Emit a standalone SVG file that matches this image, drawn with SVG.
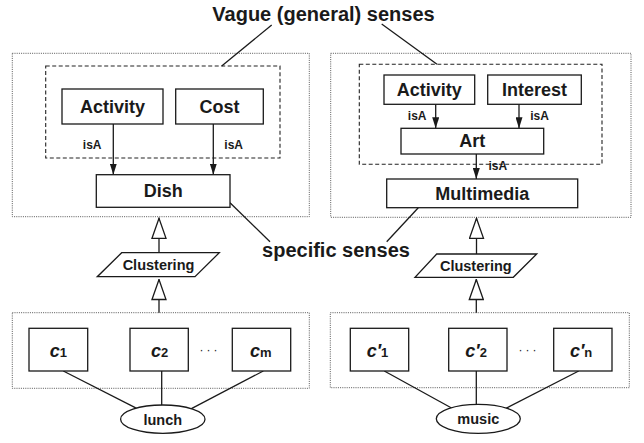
<svg xmlns="http://www.w3.org/2000/svg" width="644" height="443" viewBox="0 0 644 443">
<style>
text{font-family:"Liberation Sans",Arial,sans-serif;font-weight:bold;fill:#1a1a1a}
.box{fill:#fff;stroke:#1a1a1a;stroke-width:1.3}
.dot{fill:none;stroke:#444;stroke-width:0.9;stroke-dasharray:1 1.2}
.dash{fill:none;stroke:#222;stroke-width:1.1;stroke-dasharray:4 2.5}
.ln{fill:none;stroke:#1a1a1a;stroke-width:1.3}
.lbl{font-size:18px;text-anchor:middle}
.isa{font-size:12px;text-anchor:middle}
.big{font-size:20px;text-anchor:middle}
.cl{font-size:14.5px;text-anchor:middle}
.c{font-size:18px;font-style:italic}
.sub{font-size:13px;font-style:normal}
</style>
<defs>
<marker id="fa" viewBox="0 0 11 7" refX="11" refY="3.5" markerWidth="11" markerHeight="7" markerUnits="userSpaceOnUse" orient="auto"><path d="M0,0 L11,3.5 L0,7 z" fill="#1a1a1a"/></marker>
<marker id="ha" viewBox="-1 -1 22 16" refX="20" refY="7" markerWidth="22" markerHeight="16" markerUnits="userSpaceOnUse" orient="auto"><path d="M0,0 L20,7 L0,14 z" fill="#fff" stroke="#1a1a1a" stroke-width="1.3"/></marker>
</defs>

<!-- containers -->
<g id="containers">
<rect class="dot" x="12.3" y="53.3" width="297" height="163.4"/>
<rect class="dash" x="45.7" y="66" width="234.3" height="92"/>
<rect class="dot" x="330.7" y="53.3" width="300.3" height="164"/>
<rect class="dash" x="359.3" y="64.3" width="242.7" height="100"/>
<rect class="dot" x="12.3" y="312.7" width="297" height="75.6"/>
<rect class="dot" x="330.3" y="312.7" width="299" height="75"/>
</g>

<g id="connectors">
<line class="ln" x1="113.3" y1="124" x2="113.3" y2="174.7" marker-end="url(#fa)"/>
<line class="ln" x1="213.3" y1="124" x2="213.3" y2="174.7" marker-end="url(#fa)"/>
<line class="ln" x1="435.7" y1="104.3" x2="435.7" y2="128.3" marker-end="url(#fa)"/>
<line class="ln" x1="519" y1="104.3" x2="519" y2="128.3" marker-end="url(#fa)"/>
<line class="ln" x1="476.3" y1="154" x2="476.3" y2="179" marker-end="url(#fa)"/>
<line class="ln" x1="159" y1="252.7" x2="159" y2="218.3" marker-end="url(#ha)"/>
<line class="ln" x1="159" y1="312.7" x2="159" y2="279.5" marker-end="url(#ha)"/>
<line class="ln" x1="476.5" y1="254" x2="476.5" y2="218.3" marker-end="url(#ha)"/>
<line class="ln" x1="476.3" y1="312.7" x2="476.3" y2="279.5" marker-end="url(#ha)"/>
<line class="ln" x1="63.3" y1="371" x2="136.7" y2="408.3"/>
<line class="ln" x1="161.7" y1="371" x2="161.7" y2="405.5"/>
<line class="ln" x1="263.3" y1="371" x2="190" y2="409.3"/>
<line class="ln" x1="384.3" y1="371" x2="452" y2="408.3"/>
<line class="ln" x1="476.3" y1="371" x2="476.3" y2="404.8"/>
<line class="ln" x1="578.7" y1="371" x2="504.7" y2="409"/>
<line class="ln" x1="271.7" y1="25" x2="221.7" y2="66"/>
<line class="ln" x1="381.7" y1="24" x2="437" y2="64.3"/>
<line class="ln" x1="230" y1="202.7" x2="270" y2="241.7"/>
<line class="ln" x1="418.3" y1="207.7" x2="386.7" y2="241.7"/>
<text class="isa" x="92.2" y="149.3">isA</text>
<text class="isa" x="233.7" y="149.3">isA</text>
<text class="isa" x="417.2" y="120.3">isA</text>
<text class="isa" x="539.5" y="120.3">isA</text>
<text class="isa" x="497.8" y="170">isA</text>
</g>

<text id="vague" class="big" x="323.5" y="20.5">Vague (general) senses</text>
<text id="specific" class="big" x="336" y="256.5">specific senses</text>

<g id="activity1"><rect class="box" x="62" y="89" width="101" height="35"/><text class="lbl" x="112.5" y="113.3">Activity</text></g>
<g id="cost"><rect class="box" x="175.7" y="89" width="87.6" height="35"/><text class="lbl" x="219.5" y="113.3">Cost</text></g>
<g id="dish"><rect class="box" x="96.3" y="174.7" width="133.7" height="32.6"/><text class="lbl" x="163.2" y="197">Dish</text></g>

<g id="activity2"><rect class="box" x="384" y="75" width="90.7" height="29.3"/><text class="lbl" x="429.3" y="95.7">Activity</text></g>
<g id="interest"><rect class="box" x="487.7" y="75" width="93.6" height="29.3"/><text class="lbl" x="534.5" y="95.7">Interest</text></g>
<g id="art"><rect class="box" x="401" y="128.3" width="142.7" height="25.7"/><text class="lbl" x="472.3" y="147">Art</text></g>
<g id="multimedia"><rect class="box" x="386.7" y="179" width="191" height="28.7"/><text class="lbl" x="482.2" y="199.5">Multimedia</text></g>

<g id="clustering1"><path class="box" d="M121.7,252.7 L219.3,252.7 L195,276.7 L97.3,276.7 Z"/><text class="cl" x="158.5" y="270">Clustering</text></g>
<g id="clustering2"><path class="box" d="M436.7,254 L536.7,254 L513.3,277.3 L415,277.3 Z"/><text class="cl" x="475.8" y="271">Clustering</text></g>

<g id="c1"><rect class="box" x="29" y="328.3" width="58.7" height="42.7"/><text class="c" x="49.7" y="357.3">c<tspan class="sub">1</tspan></text></g>
<g id="c2"><rect class="box" x="130" y="328.3" width="58.3" height="42.7"/><text class="c" x="151" y="357.3">c<tspan class="sub">2</tspan></text></g>
<g id="cm"><rect class="box" x="232.3" y="328.3" width="58.4" height="42.7"/><text class="c" x="250" y="357.3">c<tspan class="sub">m</tspan></text></g>
<text id="dots1" x="210" y="354" style="font-size:12px;font-weight:normal;text-anchor:middle;letter-spacing:3px">···</text>

<g id="cp1"><rect class="box" x="350.3" y="328.3" width="58.4" height="42.7"/><text class="c" x="366.7" y="357.3">c′<tspan class="sub">1</tspan></text></g>
<g id="cp2"><rect class="box" x="448.7" y="328.3" width="58.3" height="42.7"/><text class="c" x="465.3" y="357.3">c′<tspan class="sub">2</tspan></text></g>
<g id="cpn"><rect class="box" x="553.7" y="328.3" width="58.3" height="42.7"/><text class="c" x="570" y="357.3">c′<tspan class="sub">n</tspan></text></g>
<text id="dots2" x="529" y="354" style="font-size:12px;font-weight:normal;text-anchor:middle;letter-spacing:3px">···</text>

<g id="lunch"><ellipse class="box" cx="162.8" cy="419.2" rx="42.2" ry="14.2"/><text class="cl" x="162.8" y="424.5">lunch</text></g>
<g id="music"><ellipse class="box" cx="478.3" cy="418.8" rx="42" ry="14.5"/><text class="cl" x="478.3" y="424">music</text></g>
</svg>
